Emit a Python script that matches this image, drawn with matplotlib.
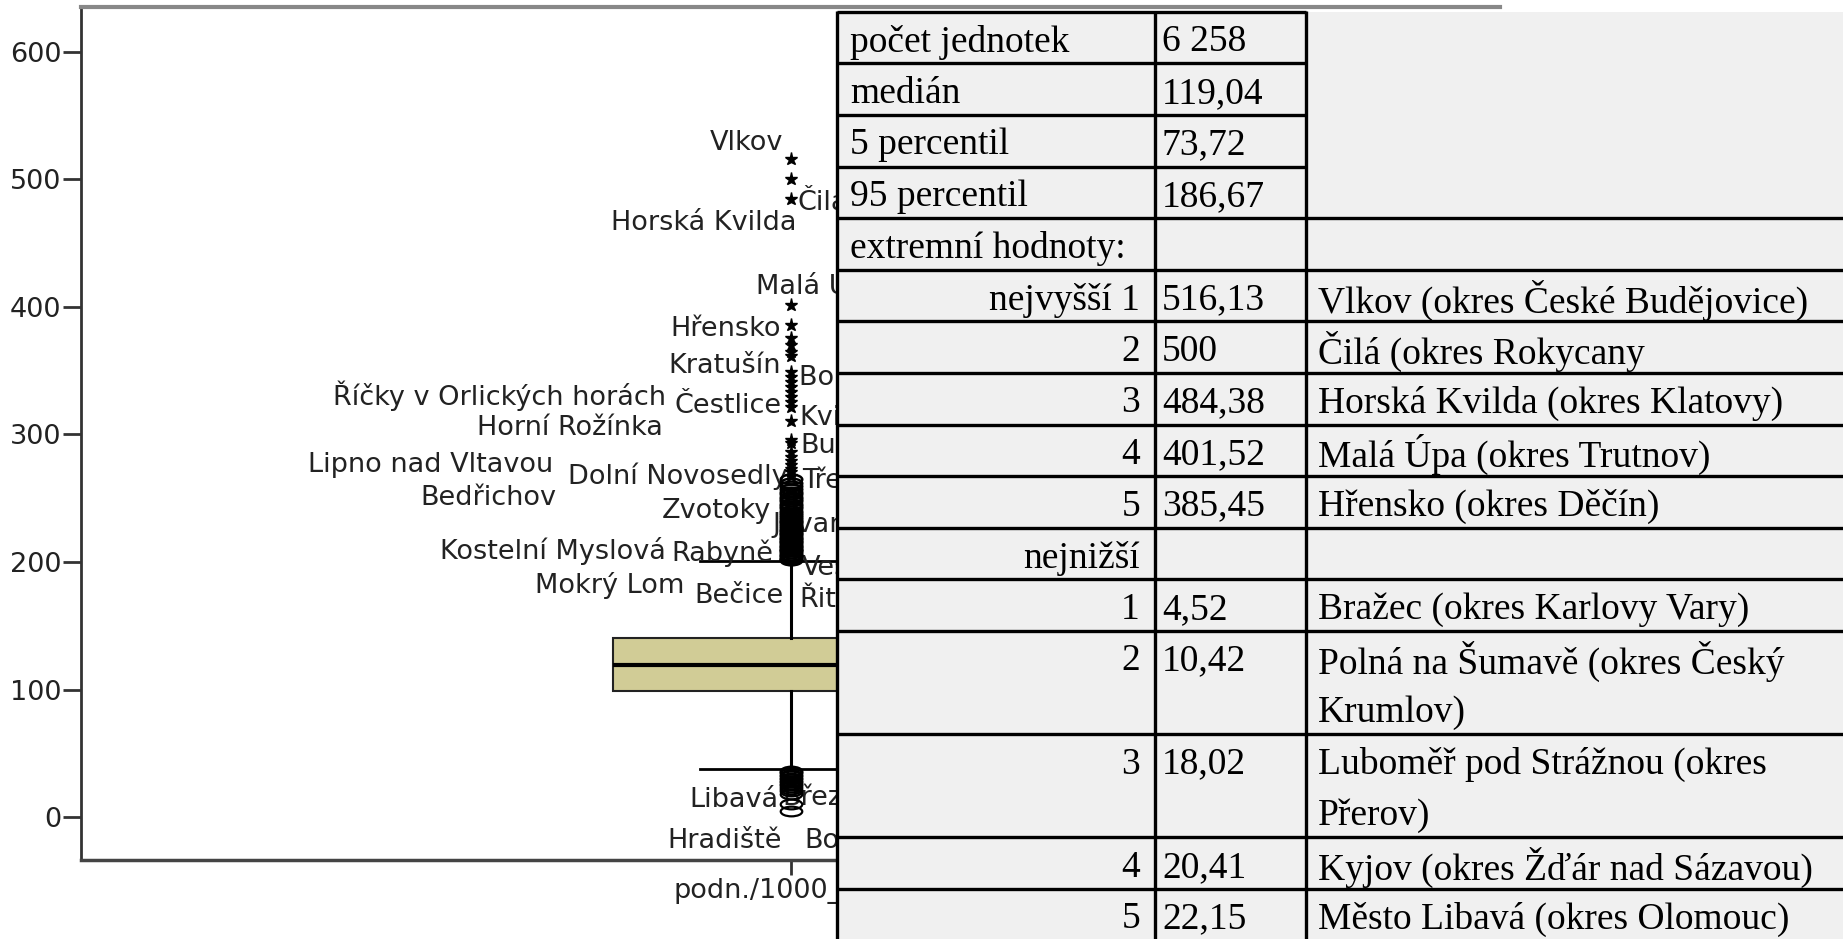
# =============================
# IMPORTY
# =============================
import matplotlib
matplotlib.use("Agg")
import matplotlib.pyplot as plt
from matplotlib.path import Path
from matplotlib.patches import Rectangle

# ======================
# DATA
# ======================
kategorie = "podn./1000_obyv"

median = 119.04
q1 = 98.9
q3 = 140.7
fous_dolni = 37.6
fous_horni = 200.5

# odlehle hodnoty (kolecka) nad hornim fousem
odlehle_horni = [201.4, 202.6, 203.5, 204.8, 205.9, 207.1, 208.3, 209.2, 210.6, 211.8,
                 212.9, 214.1, 215.4, 216.5, 217.7, 218.9, 220.2, 221.6, 222.8, 224.1,
                 225.5, 226.7, 228.2, 229.6, 231.1, 232.4, 233.9, 235.5, 237.0, 238.6,
                 240.3, 242.1, 243.8, 245.6, 247.5, 249.2, 251.0, 253.1, 255.2, 257.4,
                 259.8, 262.3, 264.9]
# extremni hodnoty (hvezdicky)
extremy_horni = [516.13, 500.0, 484.38, 401.52, 385.45, 375.4, 370.1, 365.0, 361.2,
                 349.0, 345.3, 341.4, 337.5, 333.5, 329.6, 325.7, 321.8, 310.2,
                 295.7, 293.0, 286.5, 282.6, 279.4, 276.1, 273.0, 270.2, 267.8]
# odlehle hodnoty pod dolnim fousem
odlehle_dolni = [4.52, 10.42, 18.02, 20.41, 22.15, 23.6, 25.0, 26.3, 27.5, 28.7,
                 29.8, 30.9, 32.0, 33.2, 34.3, 35.4, 36.5]

# popisky obci u bodu
popisky = ["Vlkov", "Čilá", "Horská Kvilda", "Malá Úpa", "Hřensko", "Kratušín",
           "Borová Lada", "Říčky v Orlických horách", "Čestlice", "Kvilda",
           "Horní Rožínka", "Bublava", "Lipno nad Vltavou", "Dolní Novosedly",
           "Třebotov", "Bedřichov", "Zvotoky", "Jevany", "Kostelní Myslová",
           "Rabyně", "Vestec", "Mokrý Lom", "Bečice", "Řitka", "Libavá",
           "Březina", "Hradiště", "Boletice"]

# tabulka
tab_popis = ["počet jednotek", "medián", "5 percentil", "95 percentil",
             "extremní hodnoty:", "nejvyšší 1", "2", "3", "4", "5", "nejnižší",
             "1", "2", "3", "4", "5"]
tab_hodnota = ["6 258", "119,04", "73,72", "186,67", "", "516,13", "500",
               "484,38", "401,52", "385,45", "", "4,52", "10,42", "18,02",
               "20,41", "22,15"]
tab_obec = [None, None, None, None, "",
            "Vlkov (okres České Budějovice)",
            "Čilá (okres Rokycany",
            "Horská Kvilda (okres Klatovy)",
            "Malá Úpa (okres Trutnov)",
            "Hřensko (okres Děčín)",
            "",
            "Bražec (okres Karlovy Vary)",
            "Polná na Šumavě (okres Český\nKrumlov)",
            "Luboměř pod Strážnou (okres\nPřerov)",
            "Kyjov (okres Žďár nad Sázavou)",
            "Město Libavá (okres Olomouc)"]

# ======================
# ROZLOZENI POPISKU (posun x, y, zarovnani)
# ======================
umisteni = [(-0.005, 530.8, "right"), (0.005, 483.8, "left"), (0.004, 468.1, "right"),
            (-0.024, 419.7, "left"), (-0.007, 385.3, "right"), (-0.007, 356.0, "right"),
            (0.006, 346.6, "left"), (-0.088, 332.5, "right"), (-0.006, 324.7, "right"),
            (0.006, 315.3, "left"), (-0.090, 307.4, "right"), (0.007, 293.3, "left"),
            (-0.167, 278.7, "right"), (-0.002, 269.8, "right"), (0.008, 265.9, "left"),
            (-0.165, 252.6, "right"), (-0.014, 242.4, "right"), (-0.013, 231.7, "left"),
            (-0.088, 211.0, "right"), (-0.012, 209.5, "right"), (0.008, 197.7, "left"),
            (-0.075, 183.6, "right"), (-0.005, 175.8, "right"), (0.006, 172.9, "left"),
            (-0.0085, 16.1, "right"), (-0.006, 17.5, "left"), (-0.006, -16.5, "right"),
            (0.010, -16.5, "left")]

# ======================
# GRAF
# ======================
fig = plt.figure(figsize=(18.43, 9.39), dpi=100)
ax = fig.add_axes([81 / 1843, 1 - 860 / 939, 1419 / 1843, 852.5 / 939])

stats = [dict(med=median, q1=q1, q3=q3, whislo=fous_dolni, whishi=fous_horni,
              fliers=[], label=kategorie)]
ax.bxp(stats, positions=[1], widths=0.25, capwidths=0.128, patch_artist=True,
       showfliers=False,
       boxprops=dict(facecolor="#D1CC96", edgecolor="#222222", linewidth=1.5),
       medianprops=dict(color="black", linewidth=3),
       whiskerprops=dict(color="black", linewidth=2.2),
       capprops=dict(color="black", linewidth=2))

kruh = Path.unit_circle()
elipsa = Path(kruh.vertices * [1, 0.45], kruh.codes)

ax.plot([1] * len(odlehle_horni), odlehle_horni, linestyle="none", marker=elipsa,
        markersize=15.5, mfc="none", mec="black", mew=1.8, zorder=4)
ax.plot([1] * len(odlehle_dolni), odlehle_dolni, linestyle="none", marker=elipsa,
        markersize=15.5, mfc="none", mec="black", mew=1.6, zorder=4)
ax.plot([1] * len(extremy_horni), extremy_horni, linestyle="none", marker="*",
        markersize=9.5, color="black", zorder=4)

for nazev, (dx, y, zarov) in zip(popisky, umisteni):
    ax.text(1 + dx, y, nazev, ha=zarov, va="center_baseline", fontsize=19.5,
            color="#222222", family="DejaVu Sans", zorder=2)

ax.set_xlim(0.5, 1.5)
ax.set_ylim(-33.5, 634.6)
ax.set_yticks(range(0, 700, 100))
ax.set_xticks([1])
ax.set_xticklabels([kategorie])
ax.tick_params(axis="y", direction="out", length=13, width=2, color="#333333",
               labelsize=19.5, labelcolor="#222222", pad=1)
ax.tick_params(axis="x", direction="out", length=11, width=2, color="#333333",
               labelsize=19.5, labelcolor="#222222", pad=2)

ax.spines["left"].set_color("#333333")
ax.spines["left"].set_linewidth(2)
ax.spines["bottom"].set_color("#444444")
ax.spines["bottom"].set_linewidth(2.5)
ax.spines["top"].set_color("#888888")
ax.spines["top"].set_linewidth(3)
ax.spines["right"].set_visible(False)

# ======================
# TABULKA (prekryv v pixelech)
# ======================
tab = fig.add_axes([0, 0, 1, 1], zorder=10)
tab.set_xlim(0, 1843)
tab.set_ylim(939, 0)
tab.axis("off")

sloupce = [837, 1155, 1306, 1843]
vyska = 51.6
horni_okraj = 11.7
barva_linky = "black"
lw_tab = 2.4
pismo = dict(family="Liberation Serif", fontsize=27, color="black",
             va="center_baseline")

tab.add_patch(Rectangle((sloupce[0], horni_okraj), sloupce[3] - sloupce[0],
                        939 - horni_okraj, facecolor="#F0F0F0", edgecolor="none"))

y = horni_okraj
for i in range(len(tab_popis)):
    obec = tab_obec[i]
    radky = obec.split("\n") if obec else [""]
    konec = sloupce[2] if i < 4 else sloupce[3]
    tab.plot([sloupce[0], konec], [y, y], color=barva_linky, lw=lw_tab,
             solid_capstyle="butt")
    stred = y + vyska / 2 + 0.5
    if i < 5:
        tab.text(850, stred, tab_popis[i], ha="left", **pismo)
    else:
        tab.text(1140, stred, tab_popis[i], ha="right", **pismo)
    tab.text(1162, stred, tab_hodnota[i], ha="left", **pismo)
    for k, r in enumerate(radky):
        tab.text(1318, stred + k * vyska, r, ha="left", **pismo)
    y += vyska * len(radky)
tab.plot([sloupce[0], sloupce[3]], [y, y], color=barva_linky, lw=lw_tab)

for x in sloupce[:3]:
    tab.plot([x, x], [horni_okraj - 1.2, 939], color=barva_linky, lw=lw_tab,
             solid_capstyle="butt")

fig.savefig("out.png", dpi=100)
